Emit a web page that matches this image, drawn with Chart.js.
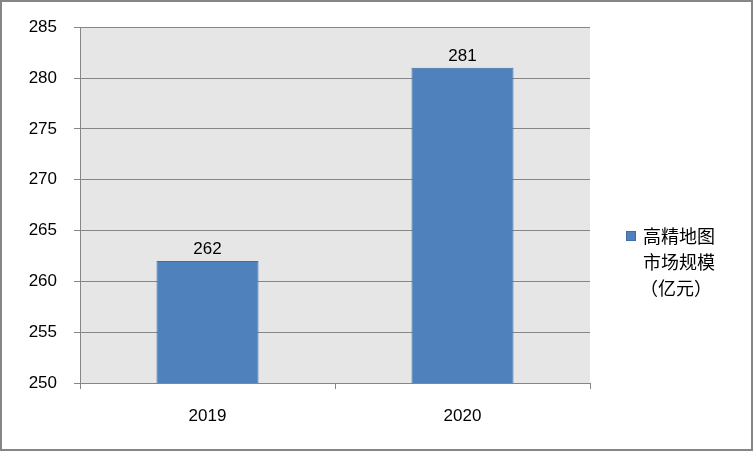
<!DOCTYPE html>
<html>
<head>
<meta charset="utf-8">
<script src="https://cdn.jsdelivr.net/npm/chart.js@4"></script>
<style>
  html, body { margin: 0; padding: 0; background: #fff; }
  #wrap { width: 753px; height: 451px; position: relative; }
</style>
</head>
<body>
<div id="wrap"><canvas id="chart" width="753" height="451"></canvas></div>
<script>
// data
const years = ['2019', '2020'];
const marketSize = [262, 281];
const seriesName = ['高精地图', '市场规模', '（亿元）'];
const yMin = 250, yMax = 285, yStep = 5;

// gray frame round the whole picture + gray plot background
const backdrop = {
    id: 'backdrop',
    beforeDraw(chart) {
        const { ctx, chartArea: a } = chart;
        ctx.save();
        ctx.fillStyle = '#e6e6e6';
        ctx.fillRect(a.left, a.top, a.right - a.left, a.bottom - a.top);
        ctx.strokeStyle = '#868686';
        ctx.lineWidth = 2;
        ctx.strokeRect(1, 1, chart.width - 2, chart.height - 2);
        ctx.restore();
    }
};

// value above each bar
const barValues = {
    id: 'barValues',
    afterDatasetsDraw(chart) {
        const ctx = chart.ctx;
        const meta = chart.getDatasetMeta(0);
        ctx.save();
        ctx.font = '17px "Liberation Sans", Arial, sans-serif';
        ctx.fillStyle = '#000';
        ctx.textAlign = 'center';
        ctx.textBaseline = 'bottom';
        meta.data.forEach((bar, i) => {
            ctx.fillText(String(chart.data.datasets[0].data[i]), bar.x, bar.y - 3);
        });
        ctx.restore();
    }
};

// legend at the right, label on three lines
const sideLegend = {
    id: 'sideLegend',
    afterDraw(chart) {
        const ctx = chart.ctx;
        const ds = chart.data.datasets[0];
        const x = chart.chartArea.right + 36;
        const y = 236;
        ctx.save();
        ctx.fillStyle = ds.backgroundColor;
        ctx.fillRect(x, y - 5, 10, 10);
        ctx.strokeStyle = ds.borderColor;
        ctx.lineWidth = 1;
        ctx.strokeRect(x + 0.5, y - 4.5, 9, 9);
        ctx.font = '18px "Noto Sans CJK SC", sans-serif';
        ctx.fillStyle = '#000';
        ctx.textBaseline = 'middle';
        seriesName.forEach((line, i) => {
            const lx = i === 2 ? x + 14 : x + 17;
            ctx.fillText(line, lx, y + i * 26);
        });
        ctx.restore();
    }
};

new Chart(document.getElementById('chart'), {
    type: 'bar',
    data: {
        labels: years,
        datasets: [{
            label: seriesName.join(''),
            data: marketSize,
            backgroundColor: '#4f81bd',
            borderColor: '#3d6ea6',
            borderWidth: 1,
            barPercentage: 0.4,
            categoryPercentage: 1.0
        }]
    },
    options: {
        responsive: false,
        animation: false,
        layout: { padding: { left: 0, top: 22, right: 163, bottom: 0 } },
        plugins: {
            legend: { display: false },
            tooltip: { enabled: false }
        },
        scales: {
            x: {
                afterFit(scale) { scale.height = 68; },
                grid: {
                    display: true,
                    drawOnChartArea: false,
                    offset: true,
                    color: '#868686',
                    tickLength: 6
                },
                border: { color: '#868686' },
                ticks: {
                    color: '#000',
                    padding: 17,
                    font: { family: '"Liberation Sans", Arial, sans-serif', size: 17 }
                }
            },
            y: {
                min: yMin,
                max: yMax,
                afterFit(scale) { scale.width = 80; },
                grid: { color: '#868686', tickLength: 6 },
                border: { color: '#868686' },
                ticks: {
                    stepSize: yStep,
                    color: '#000',
                    padding: 17,
                    font: { family: '"Liberation Sans", Arial, sans-serif', size: 17 }
                }
            }
        }
    },
    plugins: [backdrop, barValues, sideLegend]
});
</script>
</body>
</html>
